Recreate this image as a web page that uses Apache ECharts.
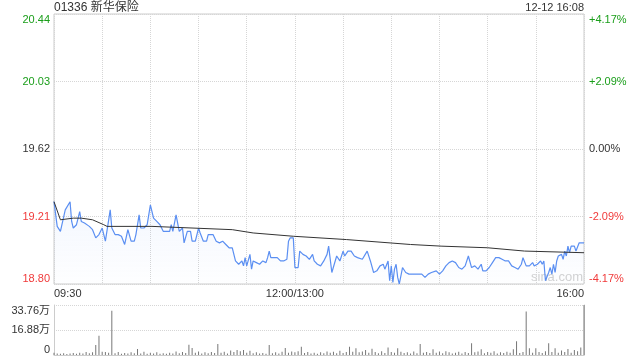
<!DOCTYPE html>
<html><head><meta charset="utf-8">
<script src="https://cdn.jsdelivr.net/npm/echarts@6/dist/echarts.min.js"></script>
<style>html,body{margin:0;padding:0;background:#fff}#c{width:640px;height:360px}</style>
</head><body><div id="c"></div>
<script>
// ---- data ----
const stockTitle = '01336 新华保险';
const stampText = '12-12 16:08';
const prevClose = 19.62;
// trading minutes since 09:30 (12:00/13:00 break at 150, 16:00 at 330)
const priceMinutes = [0,2,4,7,8,10,11,12,14,16,17,19,22,24,26,28,30,32,33,35,36,38,40,42,44,46,48,50,51,53,54,56,58,59,60,62,64,66,68,70,72,73,74,76,77,78,80,81,83,85,86,88,90,91,93,95,96,99,101,103,105,107,109,111,112,113,115,117,118,119,120,122,123,124,126,128,130,132,133,134,135,137,139,141,143,145,146,147,149,150,152,153,155,157,159,161,162,164,166,168,170,171,173,174,176,178,180,181,183,185,187,189,190,192,193,195,197,199,201,203,205,206,208,209,210,211,212,213,214,215,217,219,221,229,231,233,235,236,238,240,242,244,246,248,250,252,254,256,258,260,262,264,266,267,269,271,273,275,277,279,281,283,285,287,289,291,292,294,296,298,299,301,303,304,305,306,308,309,310,311,312,313,314,316,317,318,319,320,321,322,324,325,326,327,330];
const prices = [19.30,19.15,19.12,19.25,19.26,19.30,19.18,19.14,19.16,19.24,19.18,19.17,19.15,19.13,19.08,19.10,19.14,19.06,19.06,19.25,19.14,19.10,19.10,19.09,19.04,19.13,19.06,19.06,19.10,19.22,19.14,19.14,19.16,19.22,19.28,19.20,19.18,19.16,19.12,19.12,19.12,19.16,19.12,19.22,19.22,19.12,19.14,19.05,19.12,19.12,19.06,19.06,19.14,19.11,19.06,19.06,19.10,19.10,19.06,19.05,19.06,19.04,19.02,19.02,19.01,18.94,18.92,18.94,18.91,18.96,18.91,18.98,18.89,18.94,18.93,18.92,18.94,18.93,18.96,19.00,18.96,18.96,18.96,18.94,18.94,18.95,19.06,19.08,19.08,18.90,18.90,19.00,18.98,18.97,18.95,18.98,18.94,18.92,18.91,18.94,18.98,19.03,18.87,18.87,18.97,18.94,19.00,18.97,19.00,19.00,18.97,18.96,18.97,18.95,18.96,19.00,18.94,18.87,18.88,18.91,18.92,18.89,18.94,18.82,18.91,18.81,18.89,18.92,18.84,18.80,18.90,18.87,18.86,18.86,18.84,18.86,18.87,18.86,18.88,18.86,18.88,18.91,18.93,18.94,18.93,18.90,18.89,18.91,18.97,18.90,18.91,18.89,18.92,18.88,18.88,18.90,18.93,18.96,18.96,18.95,18.94,18.94,18.91,18.90,18.89,18.92,18.96,18.91,18.91,18.93,18.91,18.92,18.94,18.92,18.94,18.82,18.87,18.90,18.86,18.92,18.87,18.94,18.97,18.98,18.95,19.00,18.97,19.03,18.99,19.03,19.03,19.00,19.00,19.05,19.05];
const avgMinutes = [0,4,12,17,24,31,33,61,111,124,149,182,222,241,270,293,330];
const avgPrices = [19.30,19.19,19.20,19.20,19.19,19.16,19.15,19.15,19.13,19.11,19.09,19.07,19.04,19.03,19.02,19.00,18.99];
// volume in 万 shares, one bar every 2 minutes from 09:30
const volStep = 2;
const volumes = [1.5,1.0,0.8,1.2,0.7,1.0,1.4,0.8,1.6,1.0,2.0,1.2,1.8,6.8,13.0,2.2,2.0,1.6,29.9,1.2,2.0,0.9,1.4,1.0,1.8,1.2,4.0,1.0,2.2,0.8,1.5,1.0,1.8,0.9,1.2,0.8,1.6,1.0,2.4,1.2,2.0,1.4,7.0,4.7,1.6,2.4,1.0,1.8,1.2,2.0,1.4,7.4,1.6,2.2,1.0,3.0,2.0,3.4,2.6,3.4,1.6,2.8,1.2,1.8,1.0,1.4,0.8,6.8,1.2,1.8,1.0,2.2,4.7,1.6,2.4,1.8,2.6,5.6,1.4,2.0,1.0,1.6,0.8,1.8,1.2,2.4,1.6,2.2,1.2,2.8,1.4,2.0,5.6,2.2,4.5,1.8,2.4,3.4,1.6,4.2,2.0,1.2,2.6,1.4,5.0,2.0,1.6,4.5,2.2,1.4,1.8,1.0,2.4,1.2,7.4,1.6,2.0,1.4,3.8,1.6,2.4,1.2,2.6,1.8,1.0,1.6,2.2,1.0,2.0,1.4,8.0,1.8,2.4,3.8,1.2,2.0,1.6,2.6,1.0,1.8,1.4,2.2,1.6,3.8,9.2,1.4,2.0,29.3,4.5,1.6,4.5,2.0,1.4,2.6,7.9,2.0,4.5,1.6,3.0,2.0,4.0,1.6,3.4,2.6,5.0,33.76];
const priceTickLabels = ['18.80','19.21','19.62','20.03','20.44'];
const pctTickLabels = ['-4.17%','-2.09%','0.00%','+2.09%','+4.17%'];
const volTickLabels = ['0','16.88万','33.76万'];
const timeTickLabels = {0:'09:30',150:'12:00/13:00',330:'16:00'};

// ---- chart ----
const FONT = 'Liberation Sans, Arial, Noto Sans CJK SC, sans-serif';
const GREEN = '#1a9e1a', RED = '#f03a3a', DARK = '#333';
const step = 0.41;
const idxOf = v => Math.round(parseFloat(v) / step) + 2;
const tickColor = v => { const i = idxOf(v); return i > 2 ? GREEN : (i < 2 ? RED : DARK); };

const chart = echarts.init(document.getElementById('c'), null, {renderer: 'canvas'});
chart.setOption({
  animation: false,
  title: [
    {text: stockTitle, left: 54, top: 2, padding: 0, textStyle: {fontSize: 12, fontWeight: 'normal', color: DARK, fontFamily: FONT}},
    {text: stampText, right: 56, top: 2, padding: 0, textStyle: {fontSize: 11, fontWeight: 'normal', color: DARK, fontFamily: FONT}}
  ],
  graphic: [{type: 'text', left: 531, top: 271, silent: true,
    style: {text: 'sina.com', fill: '#d2d2d2', font: '13px ' + FONT}}],
  grid: [
    {left: 54, right: 56, top: 14, height: 270, show: true, borderColor: '#ccc', borderWidth: 1},
    {left: 54, right: 56, top: 305, height: 50}
  ],
  xAxis: [
    {type: 'value', gridIndex: 0, min: 0, max: 330, interval: 30,
     axisLine: {show: false}, axisTick: {show: false},
     splitLine: {show: true, lineStyle: {color: '#d6d6d6', type: 'dotted'}},
     axisLabel: {margin: 4, fontSize: 11, color: DARK, fontFamily: FONT,
       showMinLabel: true, showMaxLabel: true,
       alignMinLabel: 'left', alignMaxLabel: 'right',
       formatter: v => timeTickLabels[v] || ''}},
    {type: 'value', gridIndex: 1, min: 0, max: 330, interval: 30,
     axisLine: {show: true, lineStyle: {color: '#ccc'}}, axisTick: {show: false},
     axisLabel: {show: false}, splitLine: {show: false}}
  ],
  yAxis: [
    {type: 'value', gridIndex: 0, min: -0.82, max: 0.82, interval: step,
     axisLine: {show: false}, axisTick: {show: false},
     splitLine: {show: true, lineStyle: {color: '#d6d6d6', type: 'dotted'}},
     axisLabel: {margin: 4, fontSize: 11, fontFamily: FONT,
       verticalAlignMinLabel: 'bottom', verticalAlignMaxLabel: 'top',
       color: tickColor, formatter: v => priceTickLabels[idxOf(v)]}},
    {type: 'value', gridIndex: 0, position: 'right', min: -0.82, max: 0.82, interval: step,
     axisLine: {show: false}, axisTick: {show: false}, splitLine: {show: false},
     axisLabel: {margin: 5, fontSize: 11, fontFamily: FONT,
       verticalAlignMinLabel: 'bottom', verticalAlignMaxLabel: 'top',
       color: tickColor, formatter: v => pctTickLabels[idxOf(v)]}},
    {type: 'value', gridIndex: 1, min: 0, max: 33.76, interval: 16.88,
     axisLine: {show: true, lineStyle: {color: '#ccc'}}, axisTick: {show: false},
     splitLine: {show: true, lineStyle: {color: '#d6d6d6', type: 'dotted'}},
     axisLabel: {margin: 4, fontSize: 11, color: DARK, fontFamily: FONT,
       verticalAlignMinLabel: 'bottom', verticalAlignMaxLabel: 'top',
       formatter: v => volTickLabels[Math.round(v / 16.88)]}},
    {type: 'value', gridIndex: 1, position: 'right', min: 0, max: 33.76, interval: 16.88,
     axisLine: {show: true, lineStyle: {color: '#ccc'}}, axisTick: {show: false},
     axisLabel: {show: false}, splitLine: {show: false}}
  ],
  series: [
    {type: 'line', xAxisIndex: 0, yAxisIndex: 0, showSymbol: false, z: 3,
     data: priceMinutes.map((m, i) => [m, +(prices[i] - prevClose).toFixed(4)]),
     lineStyle: {color: '#5b8ff2', width: 1.2},
     areaStyle: {origin: 'start', color: new echarts.graphic.LinearGradient(0, 0, 0, 1, [
       {offset: 0, color: 'rgba(91,143,242,0.10)'}, {offset: 1, color: 'rgba(91,143,242,0.01)'}])}},
    {type: 'line', xAxisIndex: 0, yAxisIndex: 0, showSymbol: false, z: 4,
     data: avgMinutes.map((m, i) => [m, +(avgPrices[i] - prevClose).toFixed(4)]),
     lineStyle: {color: '#333', width: 1}},
    {type: 'bar', xAxisIndex: 1, yAxisIndex: 2, barWidth: 1,
     data: volumes.map((v, i) => [i * volStep, v]),
     itemStyle: {color: '#777'}}
  ]
});
</script></body></html>
